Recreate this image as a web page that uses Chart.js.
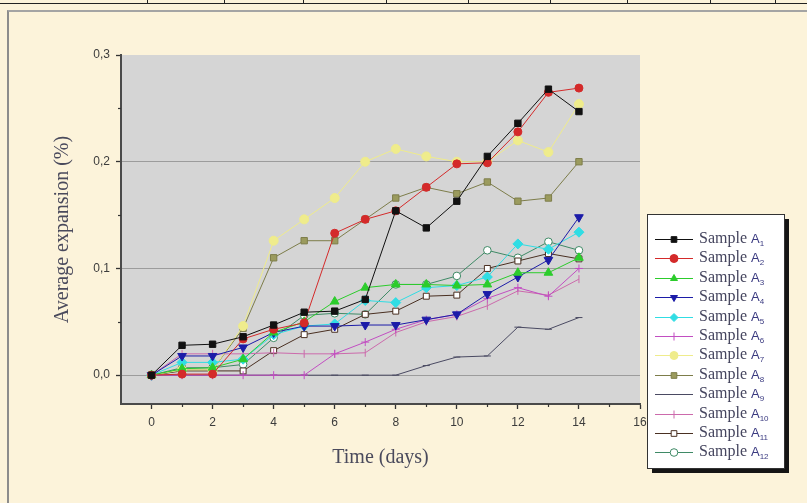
<!DOCTYPE html>
<html><head><meta charset="utf-8">
<script src="https://cdn.jsdelivr.net/npm/chart.js@4.4.0/dist/chart.umd.min.js"></script>
<style>
html,body{margin:0;padding:0;width:807px;height:503px;overflow:hidden;background:#fcf3da;}
canvas{position:absolute;left:0;top:0;}
.frame{position:absolute;left:7px;top:10px;width:820px;height:520px;border-left:2px solid #8c8c8c;border-top:2px solid #a4a4a4;}
.topline{position:absolute;left:0;top:3px;width:807px;height:1px;background:#222;}
.vt{position:absolute;top:0;width:1px;height:4px;background:#222;}
</style></head>
<body>
<div class="topline"></div>
<div class="vt" style="left:147px"></div><div class="vt" style="left:224px"></div><div class="vt" style="left:303px"></div>
<div class="vt" style="left:386px"></div><div class="vt" style="left:468px"></div><div class="vt" style="left:550px"></div>
<div class="vt" style="left:627px"></div><div class="vt" style="left:710px"></div><div class="vt" style="left:775px"></div>
<div class="frame"></div>
<canvas id="c" width="807" height="503"></canvas>
<script>
// ---- data ----
const days = [0,1,2,3,4,5,6,7,8,9,10,11,12,13,14];
const xTicks = [0,2,4,6,8,10,12,14,16];
const yTicks = [0,0.1,0.2,0.3];
const sampleName = 'Sample';
const sampleSubs = ['1','2','3','4','5','6','7','8','9','10','11','12'];
const sampleA1  = [0,0.028,0.029,0.036,0.047,0.059,0.060,0.071,0.154,0.138,0.163,0.205,0.236,0.268,0.247];
const sampleA2  = [0,0.001,0.001,0.034,0.043,0.049,0.133,0.146,0.154,0.176,0.198,0.199,0.228,0.265,0.269];
const sampleA3  = [0,0.006,0.007,0.015,0.040,0.050,0.069,0.082,0.085,0.085,0.084,0.085,0.096,0.096,0.110];
const sampleA4  = [0,0.018,0.018,0.026,0.040,0.046,0.046,0.047,0.047,0.052,0.057,0.076,0.092,0.108,0.148];
const sampleA5  = [0,0.012,0.012,0.015,0.038,0.046,0.048,0.070,0.068,0.082,0.084,0.092,0.123,0.118,0.134];
const sampleA6  = [0,0,0,0,0,0,0.020,0.031,0.043,0.052,0.057,0.072,0.082,0.074,0.100];
const sampleA7  = [0,0.005,0.005,0.046,0.126,0.146,0.166,0.200,0.212,0.205,0.200,0.200,0.220,0.209,0.254];
const sampleA8  = [0,0.005,0.005,0.044,0.110,0.126,0.126,0.146,0.166,0.176,0.170,0.181,0.163,0.166,0.200];
const sampleA9  = [0,0,0,0,0,0,0,0,0,0.009,0.017,0.018,0.045,0.043,0.054];
const sampleA10 = [0,0.020,0.020,0.020,0.021,0.020,0.020,0.021,0.040,0.050,0.055,0.065,0.079,0.075,0.090];
const sampleA11 = [0,0.004,0.004,0.004,0.023,0.038,0.043,0.057,0.060,0.074,0.075,0.100,0.107,0.114,0.109];
const sampleA12 = [0,0.007,0.007,0.010,0.035,0.056,0.058,0.057,0.085,0.085,0.093,0.117,0.110,0.125,0.117];
const allSeries = [sampleA1,sampleA2,sampleA3,sampleA4,sampleA5,sampleA6,sampleA7,sampleA8,sampleA9,sampleA10,sampleA11,sampleA12];

// ---- styles ----
const styles = [
  {c:'#111111', fill:'#111111', ps:'rect', r:4.5},
  {c:'#d42a2a', fill:'#d42a2a', ps:'circle', r:4},
  {c:'#2ccc2c', fill:'#2ccc2c', ps:'triangle', r:5},
  {c:'#1c1ca8', fill:'#1c1ca8', ps:'triangle', r:5, rot:180},
  {c:'#30dde4', fill:'#30dde4', ps:'rectRot', r:5},
  {c:'#c24ec2', fill:'#c24ec2', ps:'cross', r:4},
  {c:'#efec8c', fill:'#efec8c', ps:'circle', r:4.5},
  {c:'#7d7d4a', fill:'#9b9b5e', ps:'rect', r:4.5},
  {c:'#4a4a62', fill:'#4a4a62', ps:'line', r:3.5},
  {c:'#cc6aac', fill:'#cc6aac', ps:'line', r:4, rot:90},
  {c:'#4a3022', fill:'#ffffff', ps:'rect', r:4.2},
  {c:'#3f8a66', fill:'#ffffff', ps:'circle', r:3.8}
];

const datasets = allSeries.map((arr,i)=>({
  label: sampleName + ' A' + sampleSubs[i],
  data: days.map((d,k)=>({x:d, y:arr[k]})),
  borderColor: styles[i].c,
  backgroundColor: styles[i].fill,
  pointBackgroundColor: styles[i].fill,
  pointBorderColor: styles[i].c,
  pointStyle: styles[i].ps,
  pointRadius: styles[i].r,
  pointRotation: styles[i].rot || 0,
  pointBorderWidth: 1,
  borderWidth: 1,
  tension: 0,
  fill: false
}));

const decor = {
  id:'decor',
  beforeDraw(chart){
    const {ctx, chartArea:a} = chart;
    ctx.save();
    ctx.fillStyle = '#d5d5d5';
    ctx.fillRect(a.left, a.top, a.right-a.left, a.bottom-a.top);
    ctx.restore();
  },
  afterDraw(chart){
    const {ctx, chartArea:a, scales} = chart;
    ctx.save();
    // minor ticks
    ctx.strokeStyle = '#333'; ctx.lineWidth = 1.2;
    for (let d=1; d<16; d+=2){
      const px = Math.round(scales.x.getPixelForValue(d))+0.5;
      ctx.beginPath(); ctx.moveTo(px, a.bottom); ctx.lineTo(px, a.bottom+3); ctx.stroke();
    }
    [0.05,0.15,0.25].forEach(v=>{
      const py = Math.round(scales.y.getPixelForValue(v))+0.5;
      ctx.beginPath(); ctx.moveTo(a.left-3, py); ctx.lineTo(a.left, py); ctx.stroke();
    });
    // legend
    const lx=647, ly=214, lw=137, lh=254;
    ctx.fillStyle = '#151515'; ctx.fillRect(lx+5, ly+5, lw, lh);
    ctx.fillStyle = '#ffffff'; ctx.fillRect(lx, ly, lw, lh);
    ctx.strokeStyle = '#333'; ctx.lineWidth = 1; ctx.strokeRect(lx+0.5, ly+0.5, lw, lh);
    chart.data.datasets.forEach((ds,i)=>{
      const y = Math.round(239 + i*19.4);
      ctx.strokeStyle = ds.borderColor; ctx.lineWidth = 1;
      ctx.beginPath(); ctx.moveTo(655, y+0.5); ctx.lineTo(693, y+0.5); ctx.stroke();
      ctx.fillStyle = ds.pointBackgroundColor; ctx.strokeStyle = ds.pointBorderColor;
      Chart.helpers.drawPoint(ctx, {pointStyle: ds.pointStyle, radius: Math.min(ds.pointRadius,4), rotation: ds.pointRotation, borderWidth:1}, 674, y+0.5);
      ctx.fillStyle = '#45455e';
      ctx.font = '16px "Liberation Serif"';
      ctx.textBaseline = 'middle';
      ctx.textAlign = 'left';
      ctx.fillText(sampleName, 699, y);
      const w = ctx.measureText(sampleName).width;
      ctx.fillStyle = '#3a3a80';
      ctx.font = '13px "Liberation Sans"';
      ctx.fillText('A', 699 + w + 4, y);
      const wa = ctx.measureText('A').width;
      ctx.font = '8px "Liberation Sans"';
      ctx.fillText(sampleSubs[i], 699 + w + 4 + wa, y + 5);
    });
    ctx.restore();
  }
};

new Chart(document.getElementById('c'), {
  type: 'line',
  data: { datasets },
  options: {
    responsive: false,
    animation: false,
    layout: { padding: { top: 55, right: 167, left: 0, bottom: 0 } },
    plugins: { legend: { display: false }, tooltip: { enabled: false } },
    scales: {
      x: {
        type: 'linear', min: -1, max: 16,
        afterBuildTicks: s => { s.ticks = xTicks.map(v=>({value:v})); },
        afterFit: s => { s.height = 99; },
        grid: { drawOnChartArea: false, drawTicks: true, tickLength: 5, tickColor: '#333', tickWidth: 1.3 },
        border: { display: true, color: '#4a4a4a', width: 2 },
        ticks: { color: '#3c3c3c', font: { family: '"Liberation Sans"', size: 12 }, padding: 6, maxRotation: 0, autoSkip: false },
        title: { display: true, text: 'Time (days)', color: '#4a4a5c', font: { family: '"Liberation Serif"', size: 20 }, padding: { top: 0, bottom: 33 } }
      },
      y: {
        type: 'linear', min: -0.027, max: 0.3,
        afterBuildTicks: s => { s.ticks = yTicks.map(v=>({value:v})); },
        afterFit: s => { s.width = 121; },
        grid: { drawOnChartArea: true, color: c => (c.tick && c.tick.value >= 0.3 ? 'rgba(0,0,0,0)' : '#9c9c9c'), lineWidth: 1, drawTicks: true, tickLength: 5, tickColor: '#333', tickWidth: 1.3 },
        border: { display: true, color: '#4a4a4a', width: 2 },
        ticks: { color: '#3c3c3c', font: { family: '"Liberation Sans"', size: 12 }, padding: 6, autoSkip: false,
          callback: v => Number(v).toFixed(1).replace('.', ',') },
        title: { display: true, text: 'Average expansion (%)', color: '#4a4a5c', font: { family: '"Liberation Serif"', size: 20 }, padding: { top: 51, bottom: 0 } }
      }
    }
  },
  plugins: [decor]
});
</script>
</body></html>
